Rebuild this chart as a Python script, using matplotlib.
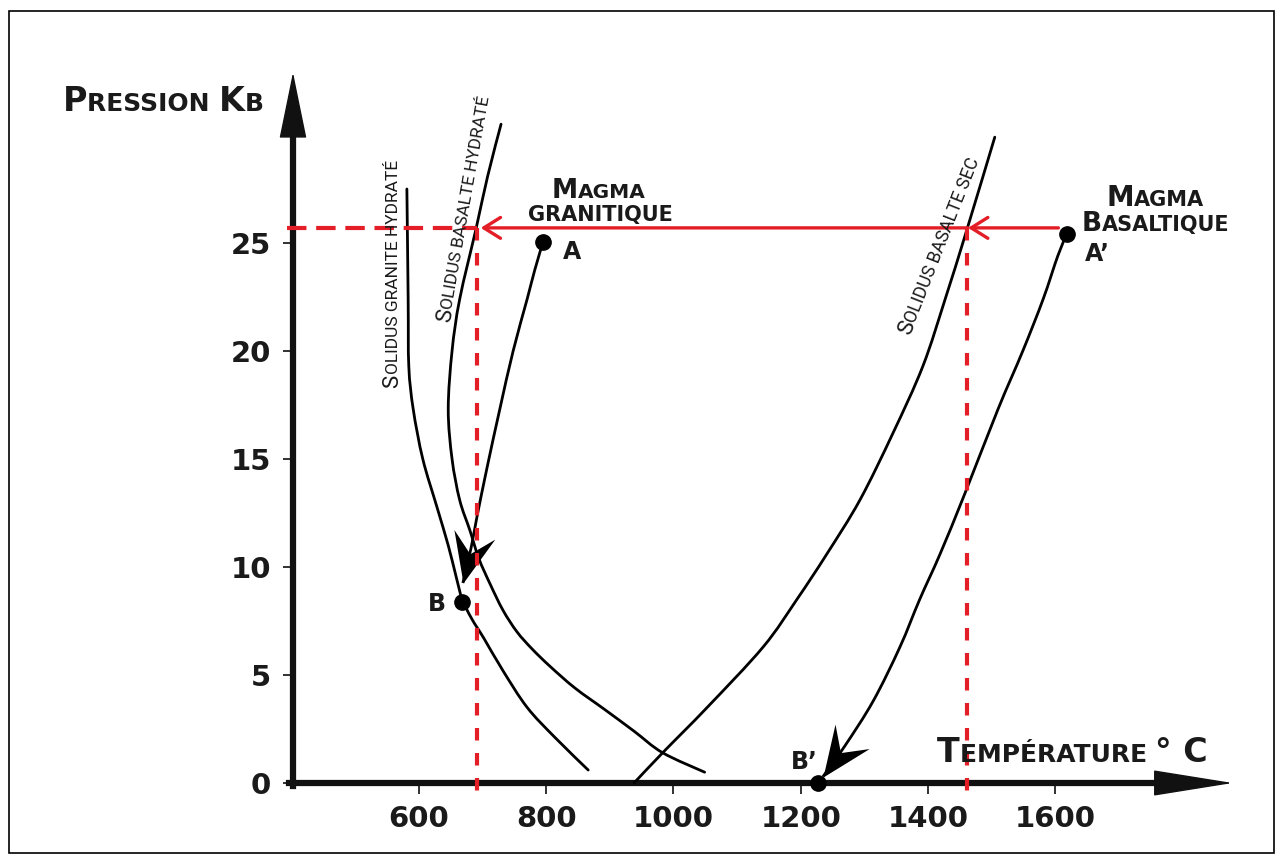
import numpy as np
import matplotlib
matplotlib.use('Agg')
import matplotlib.pyplot as plt
from matplotlib import transforms
from matplotlib.patches import FancyArrowPatch, Rectangle, PathPatch
from matplotlib.path import Path
from matplotlib.markers import MarkerStyle
from matplotlib.font_manager import FontProperties

# solidus curves: temperature (°C) / pressure (kbar)
granite_hyd_T = [581, 583, 584, 591, 606, 628, 646, 658, 668, 683, 702, 732, 770, 814, 866]
granite_hyd_P = [27.5, 22.4, 19.3, 17.3, 15.0, 12.8, 11.0, 9.6, 8.5, 7.6, 6.7, 5.2, 3.5, 2.1, 0.6]

basalt_hyd_T = [729, 708, 690, 664, 652, 646, 652, 664, 680, 694, 712, 732, 754, 778, 806, 845, 892, 938, 983, 1049]
basalt_hyd_P = [30.5, 28.1, 25.7, 22.4, 20.0, 17.3, 15.0, 13.1, 11.7, 10.4, 9.2, 8.0, 7.0, 6.2, 5.4, 4.4, 3.4, 2.4, 1.4, 0.5]

basalt_dry_T = [1505, 1461, 1427, 1392, 1345, 1293, 1241, 1194, 1141, 1053, 983, 938]
basalt_dry_P = [29.9, 25.6, 22.4, 19.3, 16.2, 13.1, 10.6, 8.5, 6.3, 3.5, 1.4, 0.0]

# ascent paths of the two magmas
granite_path_T = [795, 782, 770, 748, 727, 707, 691, 682, 669]
granite_path_P = [25.05, 23.75, 22.4, 20.0, 17.3, 14.6, 12.3, 10.9, 9.26]
basalt_path_T = [1618, 1604, 1581, 1549, 1510, 1458, 1419, 1387, 1356, 1314, 1269, 1235]
basalt_path_P = [25.4, 24.4, 22.4, 20.0, 17.3, 13.4, 10.6, 8.5, 6.3, 3.8, 1.7, 0.3]

point_names = ['A', 'B', 'A\u2019', 'B\u2019']
point_T = [795, 668, 1618, 1227]
point_P = [25.05, 8.4, 25.4, 0.0]

# red construction lines
level_P = 25.7
dashed_T = [691, 1461]
red_arrow_T = [1605, 1463, 697]   # start at A', then tips on each solidus

x_ticks = [600, 800, 1000, 1200, 1400, 1600]
y_ticks = [0, 5, 10, 15, 20, 25]

RED = '#e41e26'
T0 = 402  # where the pressure axis stands

plt.rcParams['lines.scale_dashes'] = False
fig = plt.figure(figsize=(12.83, 8.64), dpi=100)
ax = fig.add_axes([0, 0, 1, 1])
ax.set_xlim(-58.5, 1958)
ax.set_ylim(-3.75, 36.25)
ax.patch.set_alpha(0)

# axes drawn as spines with real ticks
for s in ['top', 'right']:
    ax.spines[s].set_visible(False)
ax.spines['left'].set_position(('data', T0))
ax.spines['bottom'].set_position(('data', 0))
ax.spines['left'].set_bounds(-0.15, 30.3)
ax.spines['bottom'].set_bounds(T0 - 6, 1770)
for s in ['left', 'bottom']:
    ax.spines[s].set_linewidth(4.5)
    ax.spines[s].set_color('#111111')
ax.set_xticks(x_ticks)
ax.set_yticks(y_ticks)
ax.tick_params(axis='y', direction='out', length=7, width=1.3, pad=9, labelsize=21, color='#222222')
ax.tick_params(axis='x', direction='out', length=8, width=1.3, pad=8, labelsize=21, color='#222222')
for lab in ax.get_xticklabels() + ax.get_yticklabels():
    lab.set_fontweight('bold')
    lab.set_color('#1a1a1a')

# arrow heads of the axes
ax.add_patch(FancyArrowPatch((T0, 28.0), (T0, 32.9), arrowstyle='-|>,head_length=4.4,head_width=0.9',
                             mutation_scale=10, lw=1, color='#111111', shrinkA=0, shrinkB=0, clip_on=False))
ax.add_patch(FancyArrowPatch((1700, 0), (1879, 0), arrowstyle='-|>,head_length=5.3,head_width=0.85',
                             mutation_scale=10, lw=1, color='#111111', shrinkA=0, shrinkB=0, clip_on=False))


def smooth(T, P):
    # Catmull-Rom through the read points, drawn as cubic Bezier segments
    pts = np.column_stack([T, P]).astype(float)
    n = len(pts)
    verts = [pts[0]]
    codes = [Path.MOVETO]
    for i in range(n - 1):
        p0, p1 = pts[max(i - 1, 0)], pts[i]
        p2, p3 = pts[i + 1], pts[min(i + 2, n - 1)]
        verts += [p1 + (p2 - p0) / 6, p2 - (p3 - p1) / 6, p2]
        codes += [Path.CURVE4] * 3
    return Path(verts, codes)


def stealth(angle):
    verts = [(0, 0), (-1, 0.42), (-0.6, 0), (-1, -0.42), (0, 0)]
    codes = [Path.MOVETO, Path.LINETO, Path.LINETO, Path.LINETO, Path.CLOSEPOLY]
    return MarkerStyle(Path(verts, codes), transform=transforms.Affine2D().rotate_deg(angle))


# solidus curves
for T, P in [(granite_hyd_T, granite_hyd_P), (basalt_hyd_T, basalt_hyd_P), (basalt_dry_T, basalt_dry_P)]:
    ax.add_patch(PathPatch(smooth(T, P), fill=False, ec='black', lw=2.0, capstyle='round', zorder=3))

# magma paths with their arrow heads
for T, P in [(granite_path_T, granite_path_P), (basalt_path_T, basalt_path_P)]:
    ax.add_patch(PathPatch(smooth(T, P), fill=False, ec='black', lw=2.0, zorder=3))
    p1, p2 = ax.transData.transform([(T[-2], P[-2]), (T[-1], P[-1])])
    ang = np.degrees(np.arctan2(p2[1] - p1[1], p2[0] - p1[0]))
    ax.plot(T[-1], P[-1], marker=stealth(ang), markersize=72, color='black', markeredgewidth=0, zorder=4)

ax.plot(point_T, point_P, 'o', color='black', markersize=11, zorder=5)

# red construction
ax.plot([T0 - 9, dashed_T[0]], [level_P, level_P], color=RED, lw=3, ls=(0, (14, 7)), zorder=6, clip_on=False)
for T in dashed_T:
    ax.plot([T, T], [level_P, -0.55], color=RED, lw=3, ls=(0, (9, 9)), zorder=6)
for a, b in zip(red_arrow_T[:-1], red_arrow_T[1:]):
    ax.annotate('', xy=(b, level_P), xytext=(a, level_P),
                arrowprops=dict(arrowstyle='->,head_length=1.2,head_width=0.75', mutation_scale=10,
                                color=RED, lw=2.4, shrinkA=0, shrinkB=0), zorder=6)


def smallcaps(x, y, parts, rotation=0, weight='bold', family='DejaVu Sans', color='#1a1a1a'):
    rend = fig.canvas.get_renderer()
    ang = np.deg2rad(rotation)
    off = 0.0
    for s, size in parts:
        fp = FontProperties(family=family, weight=weight, size=size)
        tr = transforms.offset_copy(ax.transData, fig=fig, x=off * np.cos(ang), y=off * np.sin(ang), units='dots')
        ax.text(x, y, s, fontproperties=fp, rotation=rotation, rotation_mode='anchor',
                ha='left', va='baseline', transform=tr, color=color, zorder=7)
        wa = rend.get_text_width_height_descent(s + 'H', fp, ismath=False)[0]
        wb = rend.get_text_width_height_descent('H', fp, ismath=False)[0]
        off += wa - wb


smallcaps(40.5, 31.1, [('P', 24), ('RESSION ', 18), ('K', 24), ('B', 18)])
smallcaps(1414, 0.97, [('T', 24), ('EMP\u00c9RATURE ', 18), ('\u00b0 C', 24)])
smallcaps(809, 27.1, [('M', 19), ('AGMA', 14.5)])
smallcaps(771, 26.0, [('GRANITIQUE', 15)])
smallcaps(1681, 26.7, [('M', 20), ('AGMA', 15)])
smallcaps(1642, 25.55, [('B', 19), ('ASALTIQUE', 15)])

smallcaps(567, 18.3, [('S', 16), ('OLIDUS GRANITE HYDRAT\u00c9', 12.5)], rotation=90, weight='normal', family='Roboto')
smallcaps(649, 21.3, [('S', 16), ('OLIDUS BASALTE HYDRAT\u00c9', 12.5)], rotation=80, weight='normal', family='Roboto')
smallcaps(1372, 20.7, [('S', 16), ('OLIDUS BASALTE SEC', 12.8)], rotation=68.5, weight='normal', family='Roboto')

label_xy = [(840, 24.6), (628, 8.3), (1667, 24.5), (1205, 0.97)]
for name, (x, y) in zip(point_names, label_xy):
    ax.text(x, y, name, fontsize=17, fontweight='bold', ha='center', va='center', color='#1a1a1a', zorder=7)

fig.add_artist(Rectangle((9 / 1283, 11 / 864), 1265 / 1283, 842 / 864, transform=fig.transFigure,
                         fill=False, lw=1.2, ec='black'))

fig.savefig('out.png', dpi=100)
